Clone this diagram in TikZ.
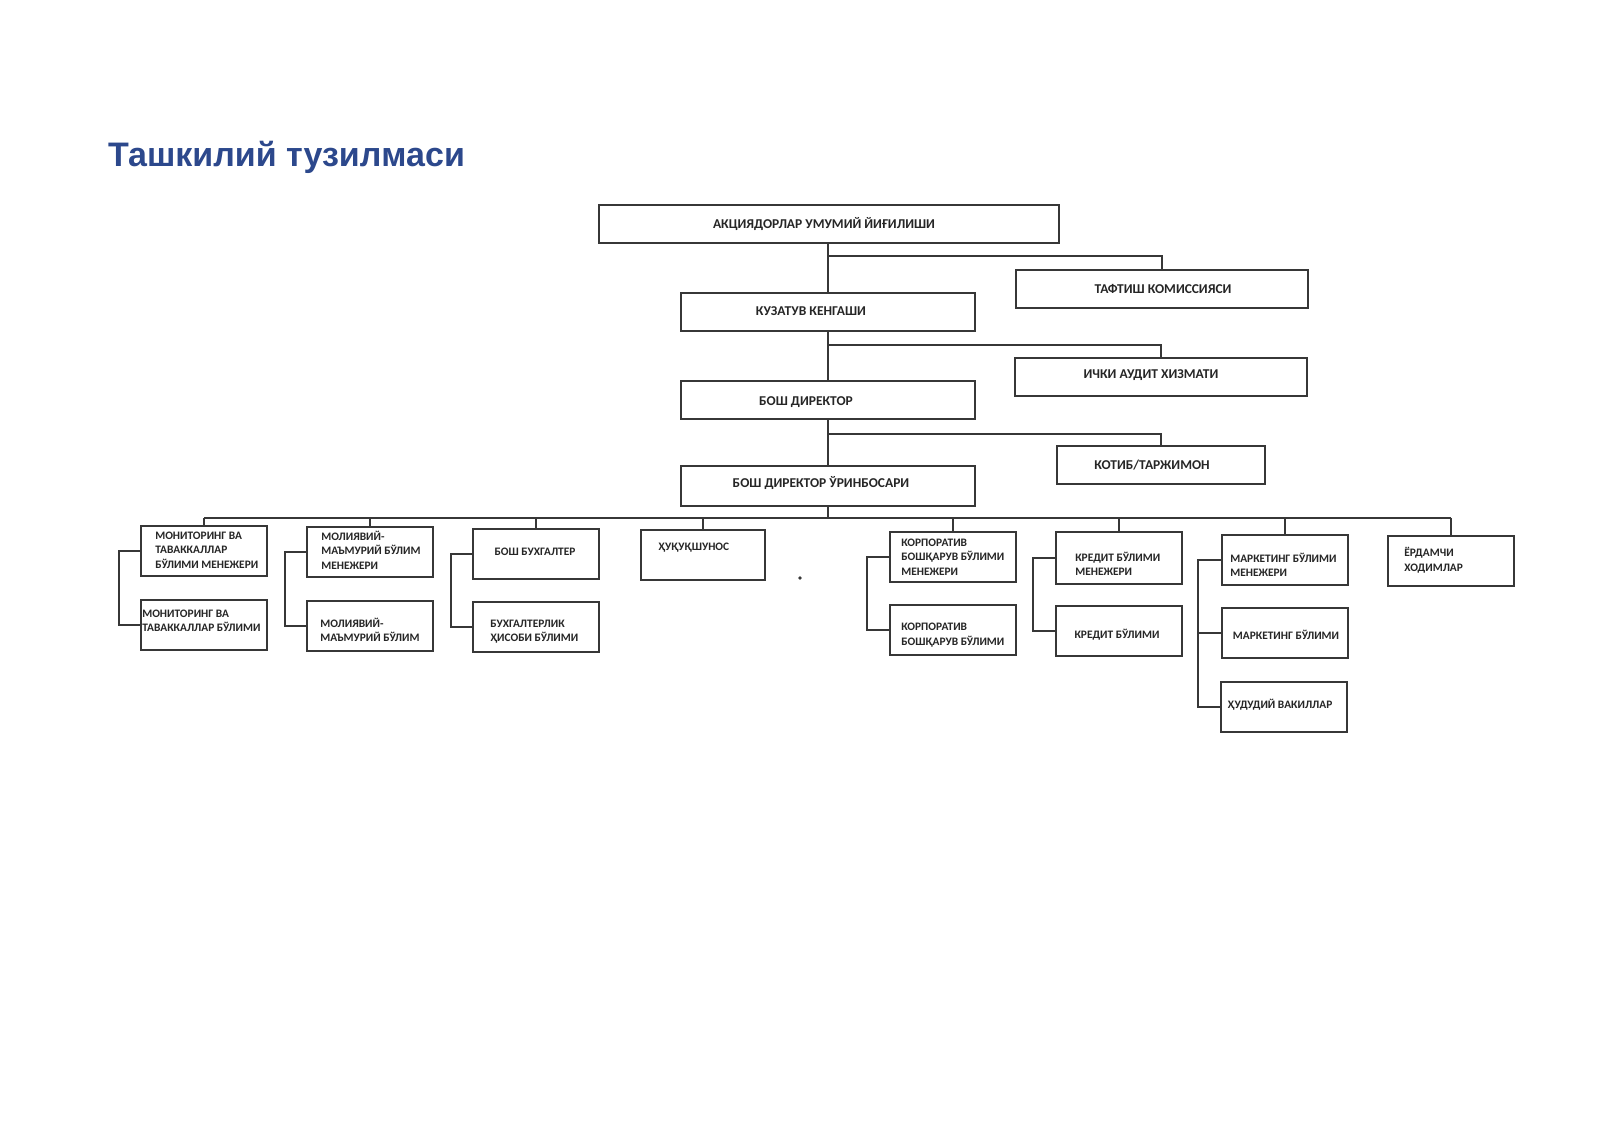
\documentclass[tikz,border=0pt]{standalone}
\usepackage{fontspec}
\setmainfont{Liberation Sans}
\newfontfamily\boxfont{Carlito}
\usetikzlibrary{calc}
\definecolor{titleblue}{RGB}{44,72,140}
\definecolor{ink}{RGB}{55,55,55}
\begin{document}
\begin{tikzpicture}[x=1pt,y=-1pt,
  bx/.style n args={2}{draw=ink, line width=1.8pt, fill=white, inner sep=0pt, minimum width=#1pt, minimum height=#2pt},
  conn/.style={draw=ink, line width=1.8pt},
  big/.style={font=\boxfont\bfseries\fontsize{13.5}{16}\selectfont, text=black!85, inner sep=0pt, text height=8.7pt, text depth=0pt},
  small/.style={font=\boxfont\bfseries\fontsize{11.4}{14.5}\selectfont, text=black!85, inner sep=0pt, align=left},
]
\useasboundingbox (0,0) rectangle (1600,1131);
\fill[white] (0,0) rectangle (1600,1131);

% title
\node[anchor=base west, font=\bfseries\fontsize{34}{40}\selectfont, text=titleblue, inner sep=0pt] (title) at (108,167) {Ташкилий тузилмаси};

% upper boxes
\node[bx={460}{38}] (top) at (829,224) {};
\node[bx={292}{38}] (taf) at (1162,289) {};
\node[bx={294}{38}] (kuz) at (828,312) {};
\node[bx={292}{38}] (ichki) at (1161,377) {};
\node[bx={294}{38}] (bd) at (828,400) {};
\node[bx={208}{38}] (kotib) at (1161,465) {};
\node[bx={294}{40}] (bdu) at (828,486) {};

% lower boxes
\node[bx={126}{50}] (c1) at (204,551) {};
\node[bx={126}{50}] (c1b) at (204,625) {};
\node[bx={126}{50}] (c2) at (370,552) {};
\node[bx={126}{50}] (c2b) at (370,626) {};
\node[bx={126}{50}] (c3) at (536,554) {};
\node[bx={126}{50}] (c3b) at (536,627) {};
\node[bx={124}{50}] (c4) at (703,555) {};
\node[bx={126}{50}] (c5) at (953,557) {};
\node[bx={126}{50}] (c5b) at (953,630) {};
\node[bx={126}{52}] (c6) at (1119,558) {};
\node[bx={126}{50}] (c6b) at (1119,631) {};
\node[bx={126}{50}] (c7) at (1285,560) {};
\node[bx={126}{50}] (c7b) at (1285,633) {};
\node[bx={126}{50}] (c7c) at (1284,707) {};
\node[bx={126}{50}] (c8) at (1451,561) {};

% connectors
\draw[conn] (kuz.north |- top.south) -- (kuz.north);
\draw[conn] ($(kuz.north |- top.south)+(0,12)$) -| (taf.north);
\draw[conn] (kuz.south) -- (bd.north);
\draw[conn] ($(kuz.south)+(0,13)$) -| (ichki.north);
\draw[conn] (bd.south) -- (bdu.north);
\draw[conn] ($(bd.south)+(0,14)$) -| (kotib.north);
\coordinate (bus) at ($(bdu.south)+(0,11)$);
\draw[conn] (bdu.south) -- (bus);
\draw[conn] (bus -| c1.north) -- (bus -| c8.north);
\foreach \n in {c1,c2,c3,c4,c5,c6,c7,c8} \draw[conn] (bus -| \n.north) -- (\n.north);
\draw[conn] (c1.west) -- ++(-21,0) |- (c1b.west);
\draw[conn] (c2.west) -- ++(-21,0) |- (c2b.west);
\draw[conn] (c3.west) -- ++(-21,0) |- (c3b.west);
\draw[conn] (c5.west) -- ++(-22,0) |- (c5b.west);
\draw[conn] (c6.west) -- ++(-22,0) |- (c6b.west);
\draw[conn] (c7.west) -- ++(-23,0) |- (c7c.west);
\draw[conn] (c7b.west) -- ++(-23,0);

% upper labels
\node[big] (ttop) at ($(top.center)+(-5,0.5)$) {АКЦИЯДОРЛАР УМУМИЙ ЙИҒИЛИШИ};
\node[big] (ttaf) at ($(taf.center)+(1,0)$) {ТАФТИШ КОМИССИЯСИ};
\node[big] (tkuz) at ($(kuz.center)+(-17,-1)$) {КУЗАТУВ КЕНГАШИ};
\node[big] (tichki) at ($(ichki.center)+(-10,-2.5)$) {ИЧКИ АУДИТ ХИЗМАТИ};
\node[big] (tbd) at ($(bd.center)+(-22,1)$) {БОШ ДИРЕКТОР};
\node[big] (tkotib) at ($(kotib.center)+(-9,0)$) {КОТИБ/ТАРЖИМОН};
\node[big] (tbdu) at ($(bdu.center)+(-7,-3)$) {БОШ ДИРЕКТОР ЎРИНБОСАРИ};

% lower labels
\node[small, anchor=west] (tc1) at ($(c1.west)+(15,-1)$) {МОНИТОРИНГ ВА\\ТАВАККАЛЛАР\\БЎЛИМИ МЕНЕЖЕРИ};
\node[small, anchor=west] (tc1b) at ($(c1b.west)+(2,-4)$) {МОНИТОРИНГ ВА\\ТАВАККАЛЛАР БЎЛИМИ};
\node[small, anchor=west] (tc2) at ($(c2.west)+(15,-2)$) {МОЛИЯВИЙ-\\МАЪМУРИЙ БЎЛИМ\\МЕНЕЖЕРИ};
\node[small, anchor=west] (tc2b) at ($(c2b.west)+(14,4)$) {МОЛИЯВИЙ-\\МАЪМУРИЙ БЎЛИМ};
\node[small] (tc3) at ($(c3.center)+(-1,-2)$) {БОШ БУХГАЛТЕР};
\node[small, anchor=west] (tc3b) at ($(c3b.west)+(18,4.5)$) {БУХГАЛТЕРЛИК\\ҲИСОБИ БЎЛИМИ};
\node[small, anchor=west] (tc4) at ($(c4.west)+(18,-7)$) {ҲУҚУҚШУНОС};
\node[small, anchor=west] (tc5) at ($(c5.west)+(12,0)$) {КОРПОРАТИВ\\БОШҚАРУВ БЎЛИМИ\\МЕНЕЖЕРИ};
\node[small, anchor=west] (tc5b) at ($(c5b.west)+(12,5)$) {КОРПОРАТИВ\\БОШҚАРУВ БЎЛИМИ};
\node[small, anchor=west] (tc6) at ($(c6.west)+(20,6)$) {КРЕДИТ БЎЛИМИ\\МЕНЕЖЕРИ};
\node[small] (tc6b) at ($(c6b.center)+(-2,4)$) {КРЕДИТ БЎЛИМИ};
\node[small, anchor=west] (tc7) at ($(c7.west)+(9,5)$) {МАРКЕТИНГ БЎЛИМИ\\МЕНЕЖЕРИ};
\node[small] (tc7b) at ($(c7b.center)+(1,2)$) {МАРКЕТИНГ БЎЛИМИ};
\node[small] (tc7c) at ($(c7c.center)+(-4,-2)$) {ҲУДУДИЙ ВАКИЛЛАР};
\node[small, anchor=west] (tc8) at ($(c8.west)+(17,-1)$) {ЁРДАМЧИ\\ХОДИМЛАР};

% stray dot
\fill[ink] (800,578) circle (1.8);
\end{tikzpicture}
\end{document}
